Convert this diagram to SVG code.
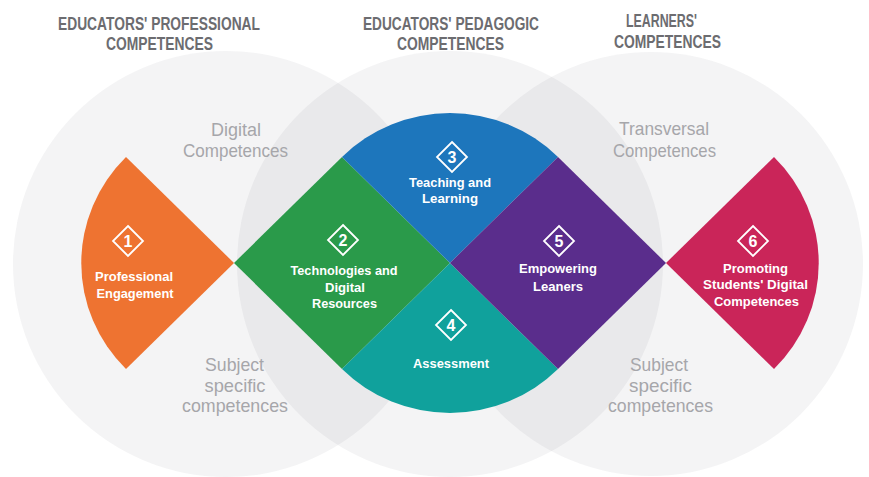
<svg xmlns="http://www.w3.org/2000/svg" width="869" height="477" viewBox="0 0 869 477">
  <style>
    .ring { fill: #2a2e3a; fill-opacity: 0.052; }
    .hdr { font-family: "Liberation Sans", Arial, sans-serif; font-weight: bold; font-size: 18.5px; fill: #6c6c70; text-anchor: middle; }
    .sub { font-family: "Liberation Sans", Arial, sans-serif; font-size: 19px; fill: #a6a6aa; text-anchor: middle; }
    .lbl { font-family: "Liberation Sans", Arial, sans-serif; font-weight: bold; font-size: 12.5px; fill: #ffffff; text-anchor: middle; }
    .num { font-family: "Liberation Sans", Arial, sans-serif; font-weight: bold; font-size: 16px; fill: #ffffff; text-anchor: middle; }
    .icon { fill: none; stroke: #ffffff; stroke-width: 1.8; stroke-linejoin: miter; }
  </style>
  <defs>
    <path id="dia" d="M0,-15 L15,0 L0,15 L-15,0 Z"/>
  </defs>
  <rect x="0" y="0" width="869" height="477" fill="#ffffff"/>

  <g id="circles">
    <circle class="ring" cx="226" cy="264" r="213"/>
    <circle class="ring" cx="450" cy="264" r="213"/>
    <circle class="ring" cx="651" cy="264" r="212"/>
  </g>

  <g id="headers">
    <text class="hdr" x="159" y="30" textLength="202" lengthAdjust="spacingAndGlyphs">EDUCATORS' PROFESSIONAL</text>
    <text class="hdr" x="159.5" y="50" textLength="107" lengthAdjust="spacingAndGlyphs">COMPETENCES</text>
    <text class="hdr" x="451" y="30" textLength="176" lengthAdjust="spacingAndGlyphs">EDUCATORS' PEDAGOGIC</text>
    <text class="hdr" x="450.5" y="50" textLength="107" lengthAdjust="spacingAndGlyphs">COMPETENCES</text>
    <text class="hdr" x="661.5" y="27" textLength="71" lengthAdjust="spacingAndGlyphs">LEARNERS'</text>
    <text class="hdr" x="667.5" y="48" textLength="107" lengthAdjust="spacingAndGlyphs">COMPETENCES</text>
  </g>

  <g id="subtexts">
    <text class="sub" x="236" y="136" textLength="50" lengthAdjust="spacingAndGlyphs">Digital</text>
    <text class="sub" x="235.5" y="157" textLength="105" lengthAdjust="spacingAndGlyphs">Competences</text>
    <text class="sub" x="664" y="135" textLength="90" lengthAdjust="spacingAndGlyphs">Transversal</text>
    <text class="sub" x="664.5" y="157" textLength="103" lengthAdjust="spacingAndGlyphs">Competences</text>
    <text class="sub" x="234.5" y="371" textLength="59" lengthAdjust="spacingAndGlyphs">Subject</text>
    <text class="sub" x="235" y="392" textLength="61" lengthAdjust="spacingAndGlyphs">specific</text>
    <text class="sub" x="235" y="412" textLength="106" lengthAdjust="spacingAndGlyphs">competences</text>
    <text class="sub" x="659" y="371" textLength="58" lengthAdjust="spacingAndGlyphs">Subject</text>
    <text class="sub" x="660.5" y="392" textLength="63" lengthAdjust="spacingAndGlyphs">specific</text>
    <text class="sub" x="660.5" y="412" textLength="105" lengthAdjust="spacingAndGlyphs">competences</text>
  </g>

  <g id="node1">
    <path d="M234,263 L126,157 A152.7,149.9 0 0 0 126,369 Z" fill="#ee7331"/>
    <use href="#dia" class="icon" x="128" y="241"/>
    <text class="num" x="128" y="247">1</text>
    <text class="lbl" x="134" y="281" textLength="78" lengthAdjust="spacingAndGlyphs">Professional</text>
    <text class="lbl" x="135" y="298" textLength="77" lengthAdjust="spacingAndGlyphs">Engagement</text>
  </g>

  <g id="node2">
    <path d="M234,263 L342,157 L450,263 L342,369 Z" fill="#2a9a4a"/>
    <use href="#dia" class="icon" x="343" y="240"/>
    <text class="num" x="343" y="246">2</text>
    <text class="lbl" x="344" y="275" textLength="107" lengthAdjust="spacingAndGlyphs">Technologies and</text>
    <text class="lbl" x="345" y="292" textLength="40" lengthAdjust="spacingAndGlyphs">Digital</text>
    <text class="lbl" x="344.5" y="308" textLength="65" lengthAdjust="spacingAndGlyphs">Resources</text>
  </g>

  <g id="node3">
    <path d="M450,263 L342,157 A152.7,149.9 0 0 1 558,157 Z" fill="#1d76bc"/>
    <use href="#dia" class="icon" x="452" y="157"/>
    <text class="num" x="452" y="163">3</text>
    <text class="lbl" x="450" y="187" textLength="82" lengthAdjust="spacingAndGlyphs">Teaching and</text>
    <text class="lbl" x="450" y="203" textLength="56" lengthAdjust="spacingAndGlyphs">Learning</text>
  </g>

  <g id="node4">
    <path d="M450,263 L342,369 A152.7,149.9 0 0 0 558,369 Z" fill="#10a19c"/>
    <use href="#dia" class="icon" x="451" y="325"/>
    <text class="num" x="451" y="331">4</text>
    <text class="lbl" x="451" y="368" textLength="76" lengthAdjust="spacingAndGlyphs">Assessment</text>
  </g>

  <g id="node5">
    <path d="M450,263 L558,157 L666,263 L558,369 Z" fill="#5a2d8c"/>
    <use href="#dia" class="icon" x="559" y="241"/>
    <text class="num" x="559" y="247">5</text>
    <text class="lbl" x="558" y="273" textLength="78" lengthAdjust="spacingAndGlyphs">Empowering</text>
    <text class="lbl" x="558" y="291" textLength="50" lengthAdjust="spacingAndGlyphs">Leaners</text>
  </g>

  <g id="node6">
    <path d="M666,263 L774,157 A152.7,149.9 0 0 1 774,369 Z" fill="#ca2559"/>
    <use href="#dia" class="icon" x="753" y="241"/>
    <text class="num" x="753" y="247">6</text>
    <text class="lbl" x="755.5" y="273" textLength="65" lengthAdjust="spacingAndGlyphs">Promoting</text>
    <text class="lbl" x="755.5" y="289" textLength="105" lengthAdjust="spacingAndGlyphs">Students' Digital</text>
    <text class="lbl" x="756.5" y="306" textLength="85" lengthAdjust="spacingAndGlyphs">Competences</text>
  </g>
</svg>
